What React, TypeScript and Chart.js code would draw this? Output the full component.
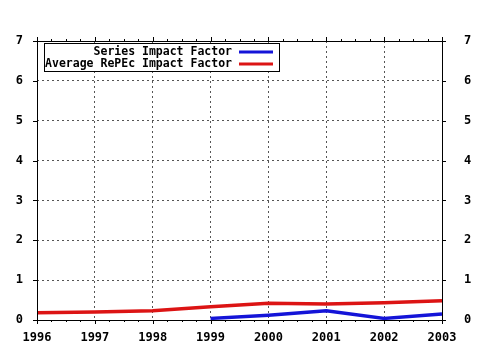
import React, { useEffect, useRef } from "react";
import { Chart, registerables } from "chart.js";

Chart.register(...registerables);

const years = [1996, 1997, 1998, 1999, 2000, 2001, 2002, 2003];
const seriesImpact = [null, null, null, 0.04, 0.12, 0.23, 0.04, 0.15];
const averageImpact = [0.18, 0.2, 0.23, 0.33, 0.42, 0.4, 0.43, 0.48];
const seriesLabels = ["Series Impact Factor", "Average RePEc Impact Factor"];
const seriesColors = ["#1414d8", "#dc1414"];
const yTicks = [0, 1, 2, 3, 4, 5, 6, 7];

const FONT = "'DejaVu Sans Mono', monospace";

const framePlugin = {
  id: "frame",
  afterDraw(chart: any) {
    const { ctx, chartArea } = chart;
    const { left, right, top, bottom } = chartArea;
    const xs = chart.scales.x;
    const ys = chart.scales.y;
    ctx.save();
    ctx.strokeStyle = "#000";
    ctx.lineWidth = 1;
    ctx.setLineDash([]);
    ctx.strokeRect(Math.round(left) + 0.5, Math.round(top) + 0.5, Math.round(right - left), Math.round(bottom - top));
    ctx.beginPath();
    for (let i = 0; i < years.length; i++) {
      for (let q = 0; q < 4; q++) {
        const v = years[i] + q / 4;
        if (v > years[years.length - 1]) break;
        const px = Math.round(xs.getPixelForValue(v)) + 0.5;
        const len = q === 0 ? 4 : 2;
        ctx.moveTo(px, bottom);
        ctx.lineTo(px, bottom + len);
        ctx.moveTo(px, top);
        ctx.lineTo(px, top - len);
      }
    }
    for (const t of yTicks) {
      const py = Math.round(ys.getPixelForValue(t)) + 0.5;
      ctx.moveTo(left - 4, py);
      ctx.lineTo(left, py);
      ctx.moveTo(right, py);
      ctx.lineTo(right + 4, py);
    }
    ctx.stroke();

    // legend
    const bx = 44, by = 43, bw = 235, bh = 28;
    ctx.fillStyle = "#fff";
    ctx.fillRect(bx, by, bw, bh);
    ctx.strokeRect(bx + 0.5, by + 0.5, bw, bh);
    ctx.font = "bold 11.5px " + FONT;
    ctx.textAlign = "right";
    ctx.textBaseline = "middle";
    chart.data.datasets.forEach((ds: any, i: number) => {
      const cy = by + 9 + i * 12;
      ctx.fillStyle = "#000";
      ctx.fillText(ds.label, 232, cy);
      ctx.strokeStyle = ds.borderColor;
      ctx.lineWidth = 3;
      ctx.beginPath();
      ctx.moveTo(239, cy);
      ctx.lineTo(273, cy);
      ctx.stroke();
    });
    ctx.restore();
  },
};

const bgPlugin = {
  id: "bg",
  beforeDraw(chart: any) {
    const { ctx, width, height } = chart;
    ctx.save();
    ctx.fillStyle = "#fff";
    ctx.fillRect(0, 0, width, height);
    ctx.restore();
  },
};

export default function App() {
  const ref = useRef<HTMLCanvasElement>(null);
  useEffect(() => {
    if (!ref.current) return;
    const tickFont = { family: FONT, size: 12, weight: "bold" as const };
    const gridCommon = {
      color: "#555",
      lineWidth: 1,
      drawTicks: false,
    };
    const chart = new Chart(ref.current, {
      type: "line",
      data: {
        labels: years,
        datasets: [
          {
            label: seriesLabels[0],
            data: years.map((y, i) => ({ x: y, y: seriesImpact[i] })),
            borderColor: seriesColors[0],
            backgroundColor: seriesColors[0],
            borderWidth: 3.5,
            pointRadius: 0,
            spanGaps: false,
          },
          {
            label: seriesLabels[1],
            data: years.map((y, i) => ({ x: y, y: averageImpact[i] })),
            borderColor: seriesColors[1],
            backgroundColor: seriesColors[1],
            borderWidth: 3.5,
            pointRadius: 0,
          },
        ],
      },
      options: {
        animation: false,
        responsive: false,
        layout: { padding: { top: 41, left: 0, right: 0, bottom: 0 } },
        plugins: { legend: { display: false }, tooltip: { enabled: false } },
        scales: {
          x: {
            type: "linear",
            min: 1996,
            max: 2003,
            afterFit: (s: any) => { s.height = 30; },
            ticks: { stepSize: 1, color: "#000", font: tickFont, padding: 11, callback: (v: any) => String(v) },
            grid: gridCommon,
            border: { display: false, dash: [2, 3] },
          },
          y: {
            position: "left",
            min: 0,
            max: 7,
            afterFit: (s: any) => { s.width = 37; },
            ticks: { stepSize: 1, color: "#000", font: tickFont, padding: 14 },
            grid: gridCommon,
            border: { display: false, dash: [2, 3] },
          },
          y2: {
            position: "right",
            min: 0,
            max: 7,
            afterFit: (s: any) => { s.width = 38; },
            ticks: { stepSize: 1, color: "#000", font: tickFont, padding: 14 },
            grid: { display: false },
            border: { display: false },
          },
        },
      } as any,
      plugins: [bgPlugin, framePlugin],
    });
    return () => chart.destroy();
  }, []);
  return (
    <div style={{ position: "absolute", left: 0, top: 0, width: 480, height: 350 }}>
      <canvas ref={ref} width={480} height={350} />
    </div>
  );
}
